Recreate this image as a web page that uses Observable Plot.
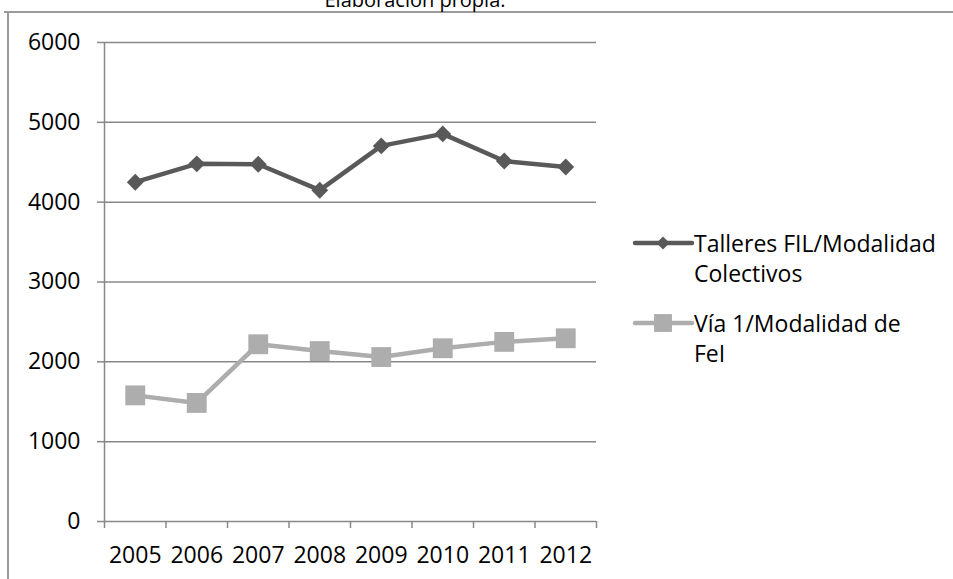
<!DOCTYPE html>
<html>
<head>
<meta charset="utf-8">
<script src="https://cdn.jsdelivr.net/npm/d3@7"></script>
<script src="https://cdn.jsdelivr.net/npm/@observablehq/plot@0.6"></script>
<style>
  body { margin: 0; background: #fff; }
  #wrap { position: relative; width: 953px; height: 579px; overflow: hidden; font-family: "Open Sans", sans-serif; }
  #chart { position: absolute; left: 0; top: 0; }
  #overlay { position: absolute; left: 0; top: 0; pointer-events: none; }
</style>
</head>
<body>
<div id="wrap">
  <div id="chart"></div>
  <svg id="overlay" width="953" height="579"></svg>
</div>
<script>
// Annual counts per modality, 2005–2012
const years = [2005, 2006, 2007, 2008, 2009, 2010, 2011, 2012];
const talleres = [4250, 4480, 4475, 4150, 4705, 4855, 4515, 4440];
const via1 = [1580, 1485, 2220, 2135, 2060, 2170, 2250, 2295];
const yTicks = [0, 1000, 2000, 3000, 4000, 5000, 6000];
const seriesNames = ["Talleres FIL/Modalidad Colectivos", "Vía 1/Modalidad de FeI"];
const legendLines = [["Talleres FIL/Modalidad", "Colectivos"], ["Vía 1/Modalidad de", "FeI"]];
const titleText = "Elaboración propia.";

const darkGray = "#595959";
const lightGray = "#adadad";
const gridGray = "#888888";
const fontSize = 23;

const rows = [
  ...years.map((year, i) => ({year, value: talleres[i], series: seriesNames[0]})),
  ...years.map((year, i) => ({year, value: via1[i], series: seriesNames[1]}))
];

// category boundaries for the x-axis ticks (between the year slots)
const bounds = [years[0] - 0.5, ...years.map(y => y + 0.5)];

const chart = Plot.plot({
  width: 953,
  height: 579,
  marginLeft: 104,
  marginRight: 357,
  marginTop: 42,
  marginBottom: 58,
  style: {fontFamily: "Open Sans, sans-serif", fontSize: `${fontSize}px`, background: "transparent", color: "#000"},
  x: {type: "linear", domain: [bounds[0], bounds[bounds.length - 1]]},
  y: {domain: [0, 6000]},
  marks: [
    Plot.gridY(yTicks, {stroke: gridGray, strokeOpacity: 1, strokeWidth: 1.5}),
    Plot.ruleX([bounds[0]], {stroke: gridGray, strokeWidth: 1.5}),
    Plot.axisY(yTicks, {tickSize: 7, tickPadding: 17, stroke: gridGray, strokeWidth: 1.5, fill: "#000", fontSize, label: null, tickFormat: d => String(d)}),
    Plot.axisX(bounds, {tickSize: 7, tickFormat: () => "", stroke: gridGray, strokeWidth: 1.5, label: null}),
    Plot.axisX(years, {tickSize: 0, tickPadding: 25, fill: "#000", fontSize, label: null, tickFormat: d => String(d)}),
    Plot.line(rows.filter(d => d.series === seriesNames[1]), {x: "year", y: "value", stroke: lightGray, strokeWidth: 4.5, strokeLinejoin: "round"}),
    Plot.dot(rows.filter(d => d.series === seriesNames[1]), {x: "year", y: "value", symbol: "square", r: 11.2, fill: lightGray, stroke: "none"}),
    Plot.line(rows.filter(d => d.series === seriesNames[0]), {x: "year", y: "value", stroke: darkGray, strokeWidth: 4.5, strokeLinejoin: "round"}),
    Plot.dot(rows.filter(d => d.series === seriesNames[0]), {x: "year", y: "value", symbol: "diamond2", r: 7.6, fill: darkGray, stroke: "none"})
  ]
});
document.getElementById("chart").appendChild(chart);

// Frame, clipped title and legend drawn on top of the plot
const ov = d3.select("#overlay");
ov.append("line").attr("x1", 4).attr("x2", 953).attr("y1", 12).attr("y2", 12)
  .attr("stroke", "#9a9a9a").attr("stroke-width", 2);
ov.append("line").attr("x1", 8).attr("x2", 8).attr("y1", 12).attr("y2", 579)
  .attr("stroke", "#9a9a9a").attr("stroke-width", 2);
ov.append("text").attr("x", 415).attr("y", 7).attr("text-anchor", "middle")
  .attr("font-family", "Open Sans, sans-serif").attr("font-size", 20).attr("fill", "#000")
  .text(titleText);

const legendItems = [
  {color: darkGray, symbol: d3.symbolDiamond2, size: 110, y: 243, lines: legendLines[0]},
  {color: lightGray, symbol: d3.symbolSquare, size: 320, y: 323, lines: legendLines[1]}
];
legendItems.forEach(item => {
  const g = ov.append("g");
  g.append("line").attr("x1", 635).attr("x2", 692).attr("y1", item.y).attr("y2", item.y)
    .attr("stroke", item.color).attr("stroke-width", 4.5).attr("stroke-linecap", "round");
  g.append("path").attr("transform", `translate(663,${item.y})`)
    .attr("d", d3.symbol(item.symbol, item.size)()).attr("fill", item.color);
  const t = g.append("text").attr("font-family", "Open Sans, sans-serif")
    .attr("font-size", fontSize).attr("fill", "#000");
  item.lines.forEach((line, i) => {
    t.append("tspan").attr("x", 694).attr("y", item.y + 9 + i * 29.5).text(line);
  });
});
</script>
</body>
</html>
